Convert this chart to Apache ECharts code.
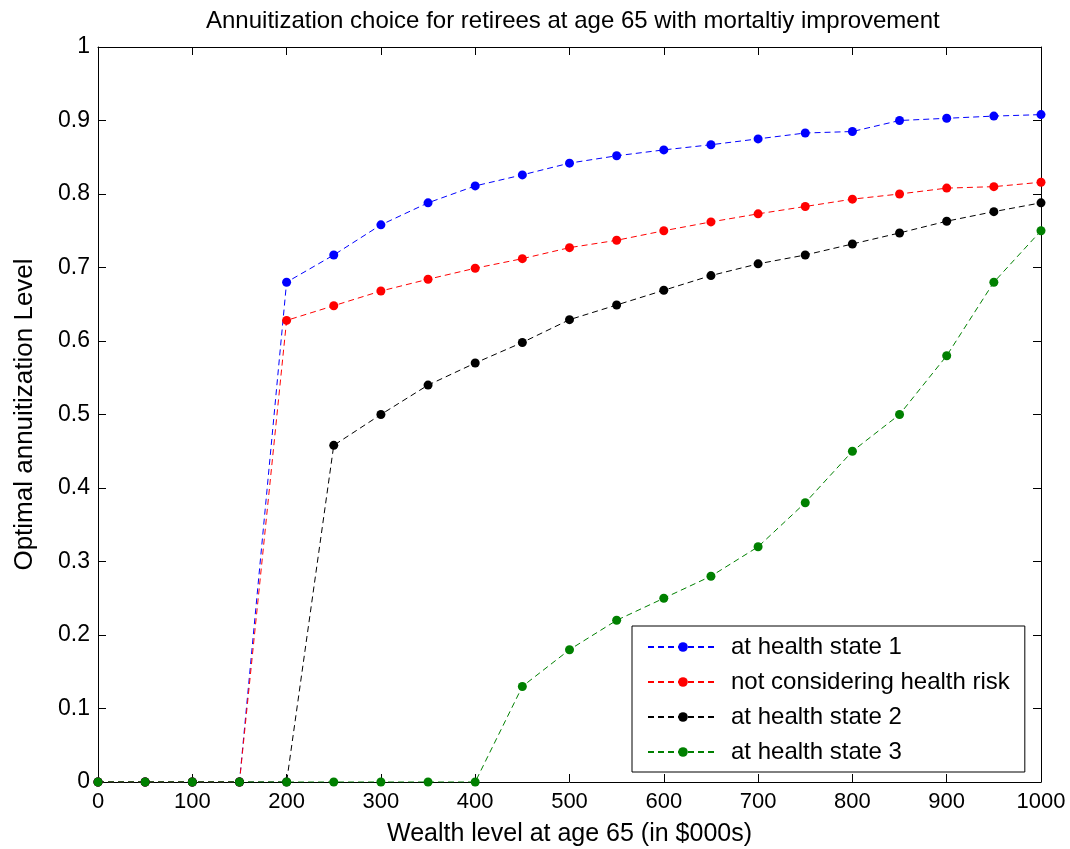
<!DOCTYPE html>
<html>
<head>
<meta charset="utf-8">
<title>Annuitization choice</title>
<script src="https://cdn.jsdelivr.net/npm/echarts@6/dist/echarts.min.js"></script>
<style>
  html, body { margin: 0; padding: 0; background: #fff; }
  #main { width: 1070px; height: 849px; }
</style>
</head>
<body>
<div id="main"></div>
<script>
// wealth levels (in $000s)
var wealth = [0, 50, 100, 150, 200, 250, 300, 350, 400, 450, 500, 550, 600, 650, 700, 750, 800, 850, 900, 950, 1000];
// at health state 1
var state1 = [0, 0, 0, 0, 0.68, 0.717, 0.758, 0.788, 0.811, 0.826, 0.842, 0.852, 0.86, 0.867, 0.875, 0.883, 0.885, 0.9, 0.903, 0.906, 0.908];
// not considering health risk
var noRisk = [0, 0, 0, 0, 0.628, 0.648, 0.668, 0.684, 0.699, 0.712, 0.727, 0.737, 0.75, 0.762, 0.773, 0.783, 0.793, 0.8, 0.808, 0.81, 0.816];
// at health state 2
var state2 = [0, 0, 0, 0, 0, 0.458, 0.5, 0.54, 0.57, 0.598, 0.629, 0.649, 0.669, 0.689, 0.705, 0.717, 0.732, 0.747, 0.763, 0.776, 0.788];
// at health state 3
var state3 = [0, 0, 0, 0, 0, 0, 0, 0, 0, 0.13, 0.18, 0.22, 0.25, 0.28, 0.32, 0.38, 0.45, 0.5, 0.58, 0.68, 0.75];

var names = ["at health state 1", "not considering health risk", "at health state 2", "at health state 3"];
var colors = ["#0000ff", "#ff0000", "#000000", "#008000"];
var values = [state1, noRisk, state2, state3];

var font = "Liberation Sans, Arial, sans-serif";

function pairs(arr) {
  return wealth.map(function (w, i) { return [w, arr[i]]; });
}

var chart = echarts.init(document.getElementById("main"));

var series = names.map(function (name, k) {
  return {
    name: name,
    type: "line",
    symbol: "circle",
    symbolSize: 9,
    showSymbol: true,
    itemStyle: { color: colors[k] },
    lineStyle: { color: colors[k], width: 1, type: [6, 4] },
    emphasis: { disabled: true },
    data: pairs(values[k])
  };
});

// box axes (MATLAB style): lines on all four sides, ticks pointing in
var axisLine = { show: true, onZero: false, lineStyle: { color: "#000", width: 1 } };
var tick = { show: true, inside: true, length: 8, lineStyle: { color: "#000" } };

var option = {
  backgroundColor: "#fff",
  animation: false,
  title: {
    text: "Annuitization choice for retirees at age 65 with mortaltiy improvement",
    left: 201,
    top: 4,
    textStyle: { fontFamily: font, fontSize: 24, fontWeight: "normal", color: "#000" }
  },
  grid: { left: 98, right: 29, top: 47, bottom: 67, containLabel: false, outerBoundsMode: "none" },
  legend: {
    orient: "vertical",
    left: 632,
    top: 626,
    padding: [9, 15, 8, 15],
    backgroundColor: "#fff",
    borderColor: "#000",
    borderWidth: 1,
    borderRadius: 0,
    itemWidth: 70,
    itemHeight: 12,
    itemGap: 11,
    textStyle: { fontFamily: font, fontSize: 24, color: "#000", lineHeight: 24, padding: [0, 0, 0, 8] },
    data: names
  },
  xAxis: [
    {
      type: "value", min: 0, max: 1000, interval: 100,
      name: "Wealth level at age 65 (in $000s)",
      nameLocation: "middle", nameGap: 40,
      nameTextStyle: { fontFamily: font, fontSize: 25, color: "#000" },
      axisLine: axisLine, axisTick: tick,
      axisLabel: { fontFamily: font, fontSize: 22, color: "#000", margin: 9,
        formatter: function (v) { return String(v); } },
      splitLine: { show: false }
    },
    {
      type: "value", min: 0, max: 1000, interval: 100, position: "top",
      axisLine: axisLine, axisTick: tick,
      axisLabel: { show: false }, splitLine: { show: false }
    }
  ],
  yAxis: [
    {
      type: "value", min: 0, max: 1, interval: 0.1,
      name: "Optimal annuitization Level",
      nameLocation: "middle", nameGap: 60,
      nameTextStyle: { fontFamily: font, fontSize: 26, color: "#000" },
      axisLine: axisLine, axisTick: tick,
      axisLabel: { fontFamily: font, fontSize: 23, color: "#000", margin: 8,
        formatter: function (v) { return String(Math.round(v * 10) / 10); } },
      splitLine: { show: false }
    },
    {
      type: "value", min: 0, max: 1, interval: 0.1, position: "right",
      axisLine: axisLine, axisTick: tick,
      axisLabel: { show: false }, splitLine: { show: false }
    }
  ],
  series: series
};

chart.setOption(option);
</script>
</body>
</html>
